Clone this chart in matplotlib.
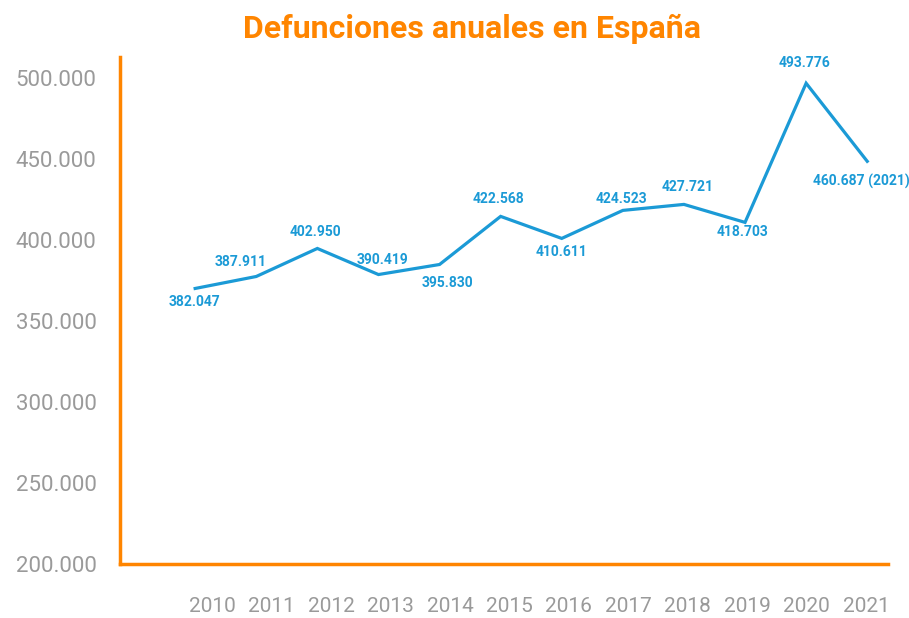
import numpy as np
import matplotlib.pyplot as plt
from matplotlib.ticker import FuncFormatter

years = ["2010", "2011", "2012", "2013", "2014", "2015",
         "2016", "2017", "2018", "2019", "2020", "2021"]
# line heights as drawn in the chart
deaths = [370100, 377500, 394800, 378700, 384900, 414600,
          401000, 418300, 422000, 410900, 496800, 448600]
# labels as printed in the chart
labels = ["382.047", "387.911", "402.950", "390.419", "395.830", "422.568",
          "410.611", "424.523", "427.721", "418.703", "493.776", "460.687 (2021)"]

orange = "#ff8500"
blue = "#1b9ad6"
grey = "#9a9a9a"

plt.rcParams["font.family"] = ["Roboto", "DejaVu Sans"]

fig = plt.figure(figsize=(9.09, 6.18), dpi=100)
ax = fig.add_axes([120 / 909, 1 - 564 / 618, (888 - 120) / 909, (564 - 57) / 618])

x = np.arange(len(years))
ax.plot(x, deaths, color=blue, lw=2.3, solid_joinstyle="miter")

# label offsets in pixels (dx, dy)
offs = [(-1, -14), (-16, 14), (-2, 16), (4, 15), (8, -19), (-2, 17),
        (0, -14), (-1, 11), (4, 17), (-3, -10), (-2, 20), (-6, -20)]
for xi, yi, lab, (dx, dy) in zip(x, deaths, labels, offs):
    ax.annotate(lab, (xi, yi), xytext=(dx * 0.72, dy * 0.72), textcoords="offset points",
                ha="center", va="center", color=blue, fontsize=10, fontweight="bold")

ax.set_xlim(-1.23, 11.34)
ax.set_ylim(200000, 513000)
ax.set_yticks(np.arange(200000, 500001, 50000))
ax.yaxis.set_major_formatter(FuncFormatter(lambda v, p: f"{v:,.0f}".replace(",", ".")))
ax.set_xticks(0.28 + x * 0.9727)
ax.set_xticklabels(years)

ax.tick_params(axis="y", length=0, pad=17, labelsize=16, labelcolor=grey)
ax.tick_params(axis="x", length=0, pad=24, labelsize=15, labelcolor=grey)

for s in ["top", "right"]:
    ax.spines[s].set_visible(False)
for s in ["left", "bottom"]:
    ax.spines[s].set_color(orange)
    ax.spines[s].set_linewidth(2.5)

fig.text(472 / 909, 1 - 29 / 618, "Defunciones anuales en España", ha="center", va="center",
         color=orange, fontsize=23, fontweight="bold")

fig.savefig("out.png", dpi=100)
